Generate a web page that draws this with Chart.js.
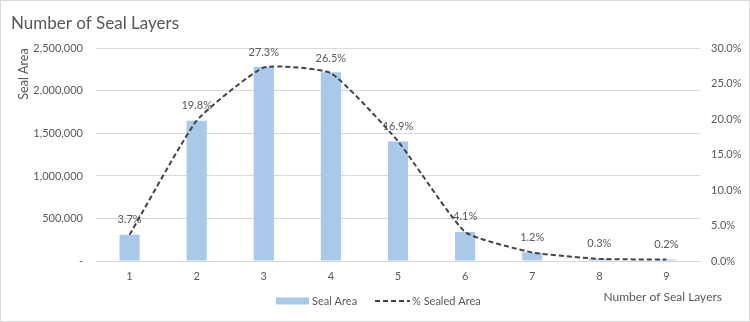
<!DOCTYPE html>
<html>
<head>
<meta charset="utf-8">
<script src="https://cdn.jsdelivr.net/npm/chart.js@4/dist/chart.umd.min.js"></script>
<style>
html,body{margin:0;padding:0;background:#fff;}
#wrap{width:750px;height:322px;position:relative;}
</style>
</head>
<body>
<div id="wrap"><canvas id="c" width="750" height="322"></canvas></div>
<script>
const categories = ['1','2','3','4','5','6','7','8','9'];
const sealArea = [310000, 1650000, 2285000, 2220000, 1405000, 340000, 100000, 25000, 17000];
const pctSealed = [3.7, 19.8, 27.3, 26.5, 16.9, 4.1, 1.2, 0.3, 0.2];
const pctLabels = ['3.7%','19.8%','27.3%','26.5%','16.9%','4.1%','1.2%','0.3%','0.2%'];
const chartTitle = 'Number of Seal Layers';
const xTitle = 'Number of Seal Layers';
const yTitle = 'Seal Area';
const seriesNames = ['Seal Area', '% Sealed Area'];

const FONT = 'Lato, "Noto Sans", sans-serif';
const TXT = '#595959';
const BAR = '#a9c9ea';
const LINE = '#444444';

const bgBorder = {
  id: 'bgBorder',
  beforeDraw(chart) {
    const ctx = chart.ctx;
    ctx.save();
    ctx.fillStyle = '#fff';
    ctx.fillRect(0, 0, chart.width, chart.height);
    ctx.strokeStyle = '#d9d9d9';
    ctx.lineWidth = 1;
    ctx.strokeRect(0.5, 0.5, chart.width - 1, chart.height - 1);
    ctx.restore();
  }
};

const extras = {
  id: 'extras',
  afterDatasetsDraw(chart) {
    const ctx = chart.ctx;
    ctx.save();
    const meta = chart.getDatasetMeta(0);
    ctx.font = '11px ' + FONT;
    ctx.fillStyle = TXT;
    ctx.textAlign = 'center';
    ctx.textBaseline = 'middle';
    meta.data.forEach((pt, i) => {
      ctx.fillText(pctLabels[i], pt.x, pt.y - 15);
    });
    ctx.font = '12px ' + FONT;
    ctx.textAlign = 'right';
    ctx.fillText(xTitle, 722, 297);
    const ly = 301;
    ctx.fillStyle = BAR;
    ctx.fillRect(276, ly - 3.5, 33, 7);
    ctx.fillStyle = TXT;
    ctx.font = '11px ' + FONT;
    ctx.textAlign = 'left';
    ctx.fillText(seriesNames[0], 312, ly);
    ctx.strokeStyle = LINE;
    ctx.lineWidth = 2;
    ctx.setLineDash([5, 3]);
    ctx.beginPath();
    ctx.moveTo(375, ly);
    ctx.lineTo(410, ly);
    ctx.stroke();
    ctx.setLineDash([]);
    ctx.fillText(seriesNames[1], 412, ly);
    ctx.restore();
  }
};

new Chart(document.getElementById('c'), {
  data: {
    labels: categories,
    datasets: [
      {
        type: 'line',
        label: seriesNames[1],
        data: pctSealed,
        yAxisID: 'y1',
        borderColor: LINE,
        borderWidth: 2,
        borderDash: [5, 3],
        pointRadius: 0,
        tension: 0.15,
        fill: false,
        order: 1
      },
      {
        type: 'bar',
        label: seriesNames[0],
        data: sealArea,
        yAxisID: 'y',
        backgroundColor: BAR,
        borderWidth: 0,
        categoryPercentage: 1,
        barPercentage: 0.3,
        order: 2
      }
    ]
  },
  options: {
    responsive: false,
    animation: false,
    devicePixelRatio: 1,
    layout: { padding: { left: 11, right: 0, top: 0, bottom: 0 } },
    plugins: {
      legend: { display: false },
      tooltip: { enabled: false },
      title: {
        display: true,
        text: chartTitle,
        align: 'start',
        color: TXT,
        font: { family: FONT, size: 17, weight: 'normal' },
        padding: { top: 13, bottom: 15 }
      }
    },
    scales: {
      x: {
        grid: { display: false, drawTicks: false },
        border: { display: true, color: '#d9d9d9' },
        ticks: { color: TXT, font: { family: FONT, size: 11 }, padding: 9 },
        afterFit(s) { s.height = 61; }
      },
      y: {
        position: 'left',
        min: 0,
        max: 2500000,
        grid: { color: '#d9d9d9', drawTicks: false },
        border: { display: false },
        ticks: {
          stepSize: 500000,
          color: TXT,
          font: { family: FONT, size: 11 },
          padding: 13,
          callback: v => v === 0 ? '-' : v.toLocaleString('en-US')
        },
        title: {
          display: true,
          text: yTitle,
          align: 'end',
          color: TXT,
          font: { family: FONT, size: 12.5 },
          padding: { top: 5, bottom: 0 }
        },
        afterFit(s) { s.width = 85; }
      },
      y1: {
        position: 'right',
        min: 0,
        max: 30,
        grid: { display: false, drawTicks: false },
        border: { display: false },
        ticks: {
          stepSize: 5,
          color: TXT,
          font: { family: FONT, size: 11 },
          padding: 11,
          callback: v => v.toFixed(1) + '%'
        },
        afterFit(s) { s.width = 50; }
      }
    }
  },
  plugins: [bgBorder, extras]
});
</script>
</body>
</html>
